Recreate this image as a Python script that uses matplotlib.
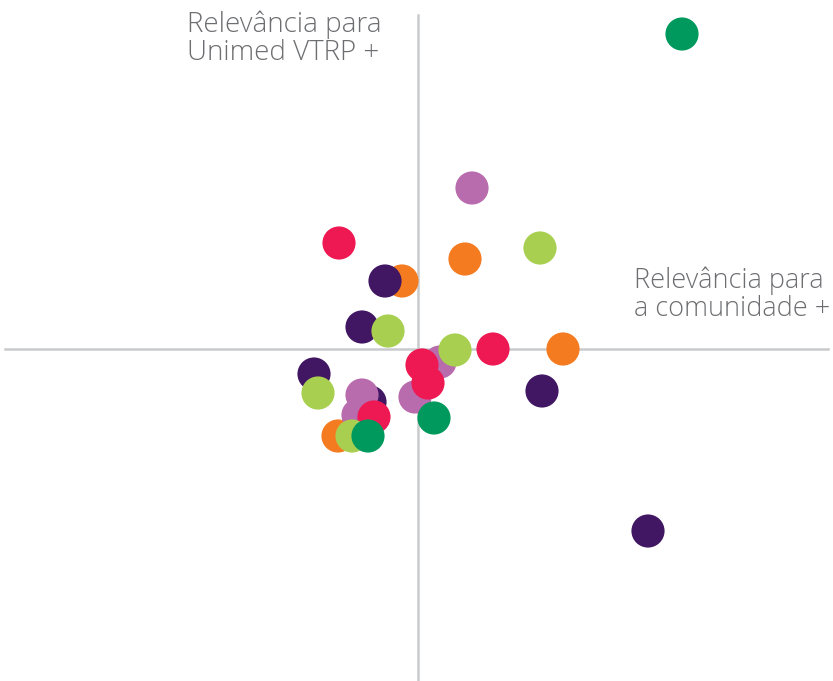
import matplotlib
matplotlib.use("Agg")
import matplotlib.pyplot as plt

# relevance scores (x: community, y: Unimed VTRP), per colour group
orange_x = [-0.16, 0.47, 1.45, -0.80]
orange_y = [0.68, 0.90, 0.00, -0.87]
purple_x = [-0.33, -0.56, 1.24, 2.30, -1.04, -0.48]
purple_y = [0.68, 0.22, -0.42, -1.82, -0.25, -0.53]
lilac_x = [0.54, -0.56, -0.60, -0.03, 0.22]
lilac_y = [1.61, -0.46, -0.66, -0.48, -0.13]
red_x = [-0.79, 0.75, -0.44, 0.04, 0.10]
red_y = [1.06, 0.00, -0.68, -0.16, -0.34]
lime_x = [1.22, -0.30, 0.37, -1.00, -0.66]
lime_y = [1.01, 0.18, -0.01, -0.44, -0.87]
green_x = [2.64, 0.16, -0.50]
green_y = [3.15, -0.69, -0.87]

groups = [
    (orange_x, orange_y, "#f47b20"),
    (purple_x, purple_y, "#411763"),
    (lilac_x, lilac_y, "#b86bad"),
    (red_x, red_y, "#ee1952"),
    (lime_x, lime_y, "#a8cf4f"),
    (green_x, green_y, "#00995d"),
]

fig = plt.figure(figsize=(8.33, 6.81), dpi=100)
ax = fig.add_axes([0, 0, 1, 1])
ax.set_xlim(-4.18, 4.15)
ax.set_ylim(-3.32, 3.49)
ax.axis("off")

ax.plot([0, 0], [-3.32, 3.34], color="#c9cacc", lw=1.8, zorder=1)
ax.plot([-4.13, 4.10], [0, 0], color="#c9cacc", lw=1.8, zorder=1)

for i, (xs, ys, c) in enumerate(groups):
    ax.scatter(xs, ys, s=570, color=c, edgecolors="none", zorder=2 + i)

ax.text(-2.31, 3.39, "Relevância para\nUnimed VTRP +", fontsize=20,
        family="Open Sans", fontweight="light", color="#6d6e71",
        va="top", ha="left", linespacing=1.02)
ax.text(4.12, 0.83, "Relevância para\na comunidade +", fontsize=19.5,
        family="Open Sans", fontweight="light", color="#6d6e71",
        va="top", ha="right", multialignment="left", linespacing=1.04)

fig.savefig("out.png", dpi=100)
